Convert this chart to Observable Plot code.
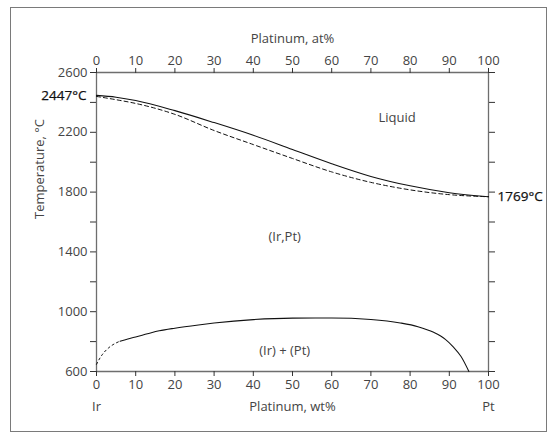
<!DOCTYPE html>
<html>
<head>
<meta charset="utf-8">
<script src="https://cdn.jsdelivr.net/npm/d3@7"></script>
<script src="https://cdn.jsdelivr.net/npm/@observablehq/plot@0.6"></script>
<style>
  html, body { margin: 0; padding: 0; background: #fff; }
  #wrap { position: relative; width: 549px; height: 435px; }
  #frame { position: absolute; left: 10px; top: 7px; width: 537px; height: 425px; border: 1.3px solid #7a7a7a; box-sizing: border-box; pointer-events: none; }
  svg { font-family: "Open Sans", "Noto Sans", sans-serif; }
</style>
</head>
<body>
<div id="wrap"><div id="frame"></div></div>
<script>
// Liquidus (solid) and solidus (dashed), Pt wt% vs temperature °C
const liqX = [0, 5, 10, 20, 30, 40, 50, 60, 70, 80, 90, 100];
const liqT = [2447, 2435, 2413, 2345, 2265, 2180, 2085, 1990, 1905, 1842, 1796, 1769];
const solX = [0, 5, 10, 20, 30, 40, 50, 60, 70, 80, 90, 100];
const solT = [2440, 2418, 2393, 2320, 2212, 2118, 2025, 1935, 1865, 1815, 1783, 1769];
// Miscibility gap: dashed part then solid part
const gapDashX = [0, 1, 2, 3, 4, 5, 6];
const gapDashT = [648, 695, 730, 756, 776, 791, 803];
const gapX = [6, 8, 10, 13, 16, 20, 26.5, 30, 40, 50, 60, 70, 77.5, 82, 86, 89, 91, 93, 95];
const gapT = [803, 818, 831, 852, 872, 890, 913, 924, 947, 957, 958, 948, 925, 900, 862, 815, 765, 700, 600];
// Axis ticks and labels
const xTicks = [0, 10, 20, 30, 40, 50, 60, 70, 80, 90, 100];
const yTicks = [600, 800, 1000, 1200, 1400, 1600, 1800, 2000, 2200, 2400, 2600];
const yLabeled = [600, 1000, 1400, 1800, 2200, 2600];
const regionLabels = ["Liquid", "(Ir,Pt)", "(Ir) + (Pt)"];
const regionX = [76.7, 48, 48];
const regionT = [2300, 1500, 740];
const meltLabels = ["2447°C", "1769°C"];
const meltT = [2447, 1769];
const endLabels = ["Ir", "Pt"];
const endX = [0, 100];

const pts = (xs, ys) => xs.map((x, i) => ({x, y: ys[i]}));
const textColor = "#444";
const axisColor = "#6e6e6e";

const chart = Plot.plot({
  width: 549,
  height: 435,
  marginLeft: 96,
  marginRight: 61,
  marginTop: 72,
  marginBottom: 64,
  style: {fontSize: "13px", fontFamily: "'Open Sans', 'Noto Sans', sans-serif", color: textColor, background: "transparent"},
  x: {domain: [0, 100]},
  y: {domain: [600, 2600]},
  marks: [
    // axis lines
    Plot.ruleX([0, 100], {stroke: axisColor, strokeWidth: 1.3}),
    Plot.ruleY([600, 2600], {stroke: axisColor, strokeWidth: 1.3}),
    // bottom axis
    Plot.axisX({anchor: "bottom", ticks: xTicks, tickSize: 5, tickPadding: 3, label: null, stroke: "#333", color: textColor}),
    // top axis
    Plot.axisX({anchor: "top", ticks: xTicks, tickSize: 5, tickPadding: 3, label: null, stroke: "#333", color: textColor}),
    // left axis
    Plot.axisY({anchor: "left", ticks: yTicks, tickSize: 6, tickPadding: 3, label: null, stroke: "#333", color: textColor,
      tickFormat: d => yLabeled.includes(d) ? String(d) : ""}),
    // right axis (ticks only)
    Plot.axisY({anchor: "right", ticks: yTicks, tickSize: 6, label: null, stroke: "#333", tickFormat: () => ""}),
    // curves
    Plot.line(pts(liqX, liqT), {x: "x", y: "y", curve: "monotone-x", stroke: "#111", strokeWidth: 1.05}),
    Plot.line(pts(solX, solT), {x: "x", y: "y", curve: "monotone-x", stroke: "#111", strokeWidth: 1, strokeDasharray: "4,3"}),
    Plot.line(pts(gapDashX, gapDashT), {x: "x", y: "y", curve: "monotone-x", stroke: "#111", strokeWidth: 1, strokeDasharray: "2,3"}),
    Plot.line(pts(gapX, gapT), {x: "x", y: "y", curve: "monotone-x", stroke: "#111", strokeWidth: 1.05}),
    // region labels
    Plot.text(regionLabels, {x: (d, i) => regionX[i], y: (d, i) => regionT[i], text: d => d, fill: textColor, fontSize: 13}),
    // melting point labels
    Plot.text([meltLabels[0]], {x: 0, y: meltT[0], text: d => d, textAnchor: "end", dx: -10, fill: "#111", fontSize: 13.5, stroke: "#111", strokeWidth: 0.25}),
    Plot.text([meltLabels[1]], {x: 100, y: meltT[1], text: d => d, textAnchor: "start", dx: 9, fill: "#111", fontSize: 13.5, stroke: "#111", strokeWidth: 0.25}),
    // axis titles
    Plot.text(["Platinum, at%"], {frameAnchor: "top", dy: -39, text: d => d, fill: textColor, fontSize: 13}),
    Plot.text(["Platinum, wt%"], {frameAnchor: "bottom", dy: 39, text: d => d, fill: textColor, fontSize: 13}),
    Plot.text(endLabels, {x: (d, i) => endX[i], frameAnchor: "bottom", dy: 39, text: d => d, fill: textColor, fontSize: 13}),
    Plot.text(["Temperature, °C"], {frameAnchor: "left", dx: -57, dy: -3, rotate: -90, text: d => d, fill: textColor, fontSize: 13})
  ]
});
document.getElementById("wrap").appendChild(chart);
chart.style.position = "absolute";
chart.style.left = "0";
chart.style.top = "0";
</script>
</body>
</html>
